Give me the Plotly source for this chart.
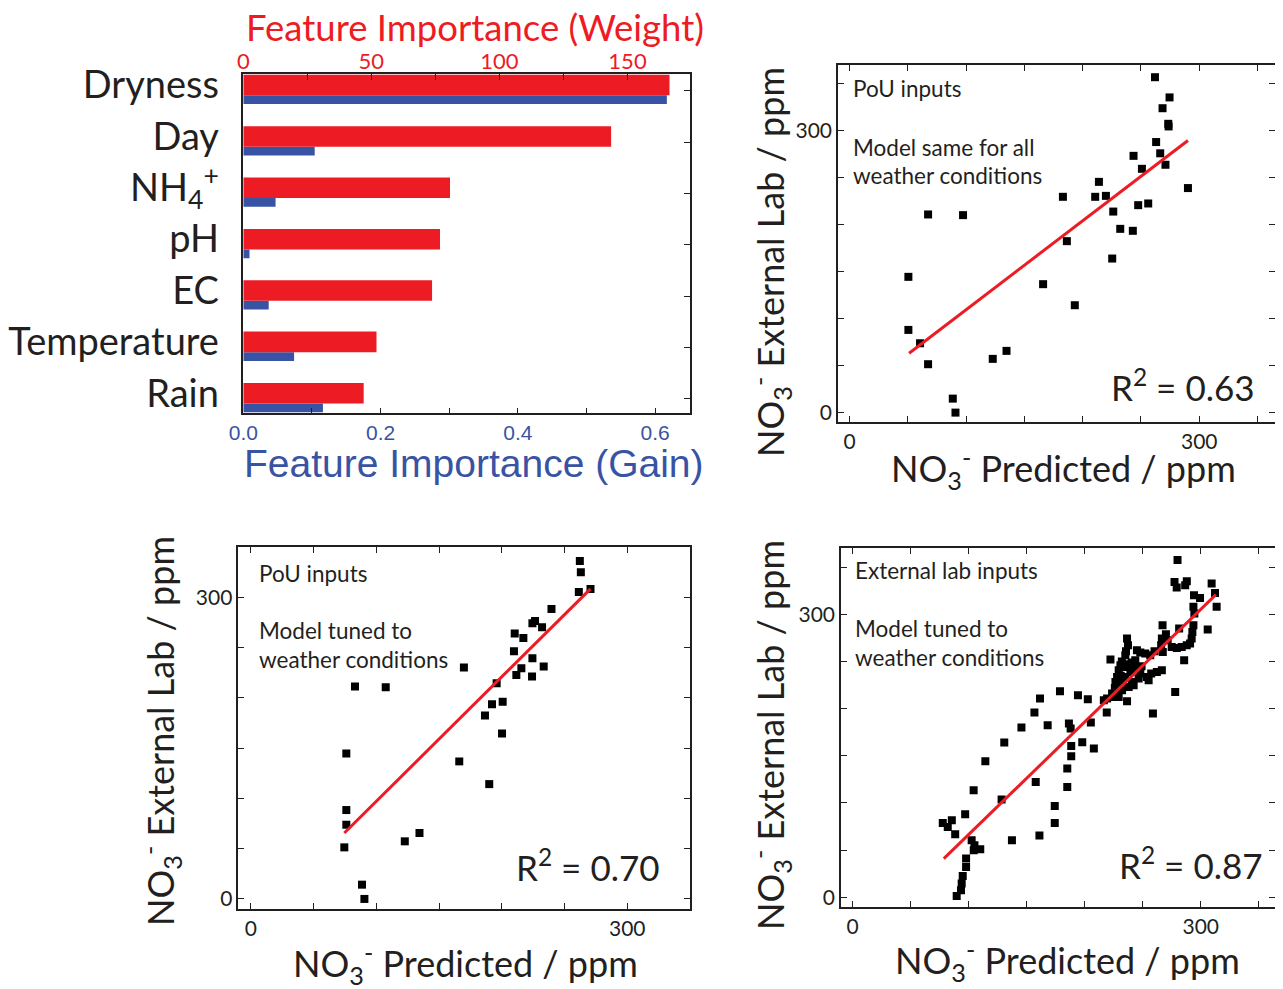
import numpy as np
import plotly.graph_objects as go

# page is 1283x989; the html body adds an 8px margin, so figure coordinates are shifted
PAGE_OFF = 8
W, H = 1283, 989 - PAGE_OFF
RED = "#ed1c24"
BLUE = "#3953a4"
INK = "#231f20"
FONT = "Lato"

# ---------------- data ----------------
features = ["Dryness", "Day", "NH<sub>4</sub><sup>+</sup>", "pH", "EC", "Temperature", "Rain"]
weight = [166.4, 143.6, 80.7, 76.8, 73.7, 52.0, 47.0]
gain = [0.617, 0.104, 0.047, 0.009, 0.037, 0.074, 0.116]

weight_ticks = [0, 25, 50, 75, 100, 125, 150]
weight_ticklabels = ["0", "", "50", "", "100", "", "150"]
gain_ticks = [0.0, 0.1, 0.2, 0.3, 0.4, 0.5, 0.6]
gain_ticklabels = ["0.0", "", "0.2", "", "0.4", "", "0.6"]

# Panel: PoU inputs, model same for all weather conditions
a_pred = [262, 274.5, 268.5, 273.4, 273.7, 263, 266.5, 271, 243.6, 250.8, 290.3, 213.9,
          210.7, 219.9, 183, 226.2, 247.6, 256.2, 232.2, 243, 186.4, 225.3, 67.3, 97.3,
          50.4, 166, 193.2, 50.4, 60.4, 67.3, 122.8, 134.6, 88.5, 90.8]
a_lab = [357, 335.5, 324, 307.4, 304.6, 288, 276, 263.8, 273.3, 259.5, 239, 245.6,
         229.7, 230.7, 229.7, 214, 220.8, 222.6, 195.6, 193.5, 182.5, 164, 210.9, 210.2,
         144.5, 136.7, 114.3, 88, 73.8, 51.5, 57.2, 65.7, 14.9, 0]
a_fit_x = [51, 290.3]
a_fit_y = [63.2, 289.7]

# Panel: PoU inputs, model tuned to weather conditions
b_pred = [262.2, 263, 261.4, 270.7, 239.6, 226.5, 224.4, 232.1, 210.3, 217.2, 209.7, 224.4,
          215.6, 233.4, 211.6, 224.1, 169.8, 195.9, 192.2, 200.7, 186.6, 200.2, 83, 107.5,
          76.1, 166.1, 190, 76.1, 76.1, 74.5, 122.7, 134.4, 88.6, 90.5]
b_lab = [336, 324.8, 305.3, 308.3, 288.4, 276.5, 274.2, 270.2, 263.9, 259.6, 246.4, 239.4,
         229.5, 231.1, 222.8, 221.2, 230.1, 214.6, 193.7, 196, 182.5, 164.6, 211.3, 210.6,
         144.7, 136.8, 114.2, 88.4, 73.8, 51.3, 57.3, 65.6, 14.2, 0]
b_fit_x = [74.5, 270.7]
b_fit_y = [65.6, 308.3]

# Panel: external lab inputs, model tuned to weather conditions
c_pred = [77.7, 85.5, 82, 88.4, 97, 102.6, 105, 110, 104.4, 97.8, 97.8, 94.9, 94, 93.4, 89.7,
          104.3, 114.4, 128.4, 130.7, 137.3, 157.8, 161, 145.5, 156.7, 161.5, 168.1, 174.2,
          174.2, 178.7, 185, 185, 186.4, 187.9, 188.4, 188.4, 194.2, 197.9, 202.7, 205.3,
          207.9, 219,
          280, 277.4, 279.3, 288, 286.6, 309.4, 312.3, 313.7, 294.2, 299.4, 293.7, 294.5,
          293.7, 292.8, 292.2, 290.8, 287.9, 283.6, 279.4, 275, 281.4, 267.1, 306, 266.5,
          265.9, 267.3, 260.2, 256.5, 252.2, 247.9, 245, 236.5, 237.3, 235.6, 235, 243.6,
          285.7, 222.2, 230.8, 235, 229.3, 227.9, 226.5, 235, 239.4, 240.8, 237.9, 242.2,
          253.6, 257.3, 262.2, 266.5, 255.1, 247.9, 246.5, 232.2, 227.9, 223.6, 219.3,
          216.5, 225, 229.3, 236.5, 278, 258.8, 232, 238, 231, 233, 244, 249, 271.5, 270,
          240.5, 226]
c_lab = [78.8, 81.7, 74.5, 66.8, 88, 60.4, 55.1, 50.9, 49.8, 41, 32.2, 22.6, 14.5, 7.4, 1.4,
         113.5, 144.2, 103.6, 164, 60.4, 122.2, 65.4, 180, 195.9, 210.7, 182.4, 96.8,
         78.8, 218.4, 136.5, 117, 184.2, 178.9, 160.5, 149.5, 214.2, 164.4, 210, 185.3,
         157.7, 195.9,
         357.7, 334.4, 328.4, 335, 330.9, 332.6, 322.7, 307.9, 320.3, 317.4, 307.9, 300.8,
         288.4, 281.3, 274.3, 269, 267.2, 265.4, 264.4, 265.4, 284.9, 288.4, 283.9, 274.3,
         267.2, 260.1, 260.9, 256.6, 258.4, 259.4, 261.9, 274.3, 267.2, 260.9, 256.6, 251.3,
         251.3, 252, 246, 244.2, 240.7, 233.6, 228.3, 233.6, 238.9, 228.3, 223, 224.8,
         233.6, 237.2, 238.9, 240.7, 230.1, 237.2, 231.9, 219.5, 217.7, 216, 210.7,
         208.9, 212.4, 212.4, 207.8, 217.7, 194.8, 250, 247, 235, 228, 243, 245, 272.5, 279,
         249, 222]
c_fit_x = [78.6, 313.1]
c_fit_y = [41, 320.8]

scatter_ticks = [0, 50, 100, 150, 200, 250, 300, 350]
scatter_ticklabels = ["0", "", "", "", "", "", "300", ""]


def px_x(v):
    return (v - PAGE_OFF) / W


def px_y(v):
    return 1 - (v - PAGE_OFF) / H


fig = go.Figure()

# ---------------- bar panel ----------------
pos = np.arange(len(features))
fig.add_trace(go.Bar(x=gain, y=pos + 0.175, width=0.17, orientation="h",
                     marker=dict(color=BLUE, line=dict(width=0)),
                     xaxis="x", yaxis="y", hoverinfo="x"))
fig.add_trace(go.Bar(x=weight, y=pos - 0.11, width=0.40, orientation="h",
                     marker=dict(color=RED, line=dict(width=0)),
                     xaxis="x2", yaxis="y2", hoverinfo="x"))

# ---------------- scatter panels ----------------
panels = [
    (a_pred, a_lab, a_fit_x, a_fit_y, "x3", "y3"),
    (b_pred, b_lab, b_fit_x, b_fit_y, "x4", "y4"),
    (c_pred, c_lab, c_fit_x, c_fit_y, "x5", "y5"),
]
for xs, ys, fx, fy, xa, ya in panels:
    fig.add_trace(go.Scatter(x=xs, y=ys, mode="markers",
                             marker=dict(symbol="square", size=8, color="black",
                                         line=dict(width=0)),
                             xaxis=xa, yaxis=ya))
    fig.add_trace(go.Scatter(x=fx, y=fy, mode="lines",
                             line=dict(color=RED, width=3),
                             xaxis=xa, yaxis=ya))

bar_dom_x = [px_x(243.3), px_x(690)]
bar_dom_y = [px_y(413.3), px_y(74)]
cat_range = [6.28, -0.325]

common_line = dict(showline=True, linecolor=INK, linewidth=1.5, showgrid=False,
                   zeroline=False, automargin=False)

layout = dict(
    template="none",
    width=W, height=H, autosize=False,
    margin=dict(l=0, r=0, t=0, b=0, pad=0),
    paper_bgcolor="white", plot_bgcolor="white",
    showlegend=False, barmode="overlay",
    font=dict(family=FONT, color=INK),
    xaxis=dict(domain=bar_dom_x, anchor="y", range=[0, 0.6507],
               tickvals=gain_ticks, ticktext=gain_ticklabels,
               ticks="inside", ticklen=6, tickwidth=1.3, tickcolor=INK,
               tickfont=dict(family="Liberation Sans", size=21, color=BLUE),
               **common_line),
    xaxis2=dict(domain=bar_dom_x, anchor="y2", overlaying="x", side="top",
                range=[0, 174.4], tickvals=weight_ticks, ticktext=weight_ticklabels,
                ticks="inside", ticklen=6, tickwidth=1.3, tickcolor=INK,
                ticklabelstandoff=-6,
                tickfont=dict(family=FONT, size=22, color=RED),
                **common_line),
    yaxis=dict(domain=bar_dom_y, anchor="x", range=cat_range,
               tickvals=pos - 0.11, ticktext=features, ticks="",
               ticklabelstandoff=15,
               tickfont=dict(family=FONT, size=38, color=INK),
               **common_line),
    yaxis2=dict(domain=bar_dom_y, anchor="x2", overlaying="y", side="right",
                range=cat_range, tickvals=pos, showticklabels=False,
                ticks="inside", ticklen=6, tickwidth=1.3, tickcolor=INK,
                **common_line),
)

scatter_doms = {
    "3": ([px_x(838), px_x(1275)], [px_y(422), px_y(65)], [-10, 365], [-10, 370]),
    "4": ([px_x(238.3), px_x(690)], [px_y(909), px_y(547)], [-10, 350], [-10, 350]),
    "5": ([px_x(841), px_x(1275)], [px_y(906.7), px_y(548.3)], [-10, 364], [-10, 370]),
}
for k, (dx, dy, rx, ry) in scatter_doms.items():
    ax = dict(tickvals=scatter_ticks, ticktext=scatter_ticklabels,
              ticks="inside", ticklen=6, tickwidth=1.3, tickcolor=INK,
              tickfont=dict(family=FONT, size=21, color=INK),
              mirror="ticks", **common_line)
    layout["xaxis" + k] = dict(domain=dx, anchor="y" + k, range=rx, **ax)
    layout["yaxis" + k] = dict(domain=dy, anchor="x" + k, range=ry, **ax)

fig.update_layout(**layout)

# ---------------- text ----------------
def note(text, x, y, size, color=INK, family=FONT, xanchor="left", angle=0):
    fig.add_annotation(text=text, x=px_x(x), y=px_y(y), xref="paper", yref="paper",
                       xanchor=xanchor, yanchor="middle", showarrow=False,
                       textangle=angle, font=dict(family=family, size=size, color=color))

note("Feature Importance (Weight)", 475, 27, 36.5, color=RED, xanchor="center")
note("Feature Importance (Gain)", 474, 463, 39, color=BLUE, family="Liberation Sans",
     xanchor="center")

xtitle = "NO<sub>3</sub><sup>-</sup> Predicted / ppm"
ytitle = "NO<sub>3</sub><sup>-</sup> External Lab / ppm"
note(xtitle, 1063, 469, 36, xanchor="center")
note(xtitle, 465, 963, 36, xanchor="center")
note(xtitle, 1067, 960, 36, xanchor="center")
note(ytitle, 770, 262, 36, xanchor="center", angle=-90)
note(ytitle, 160, 731, 36, xanchor="center", angle=-90)
note(ytitle, 770, 735, 36, xanchor="center", angle=-90)

note("PoU inputs", 851, 88, 22.5)
note("Model same for all", 851, 147, 22.5)
note("weather conditions", 851, 175, 22.5)
note("R<sup>2</sup> = 0.63", 1257, 385, 35, xanchor="right")

note("PoU inputs", 256.7, 573.3, 22.5)
note("Model tuned to", 256.7, 630.7, 22.5)
note("weather conditions", 256.7, 659.3, 22.5)
note("R<sup>2</sup> = 0.70", 661.7, 865, 35, xanchor="right")

note("External lab inputs", 853.3, 570.7, 22.5)
note("Model tuned to", 853.3, 628.3, 22.5)
note("weather conditions", 853.3, 657.3, 22.5)
note("R<sup>2</sup> = 0.87", 1265, 863.3, 35, xanchor="right")

fig.write_html("out.html")
